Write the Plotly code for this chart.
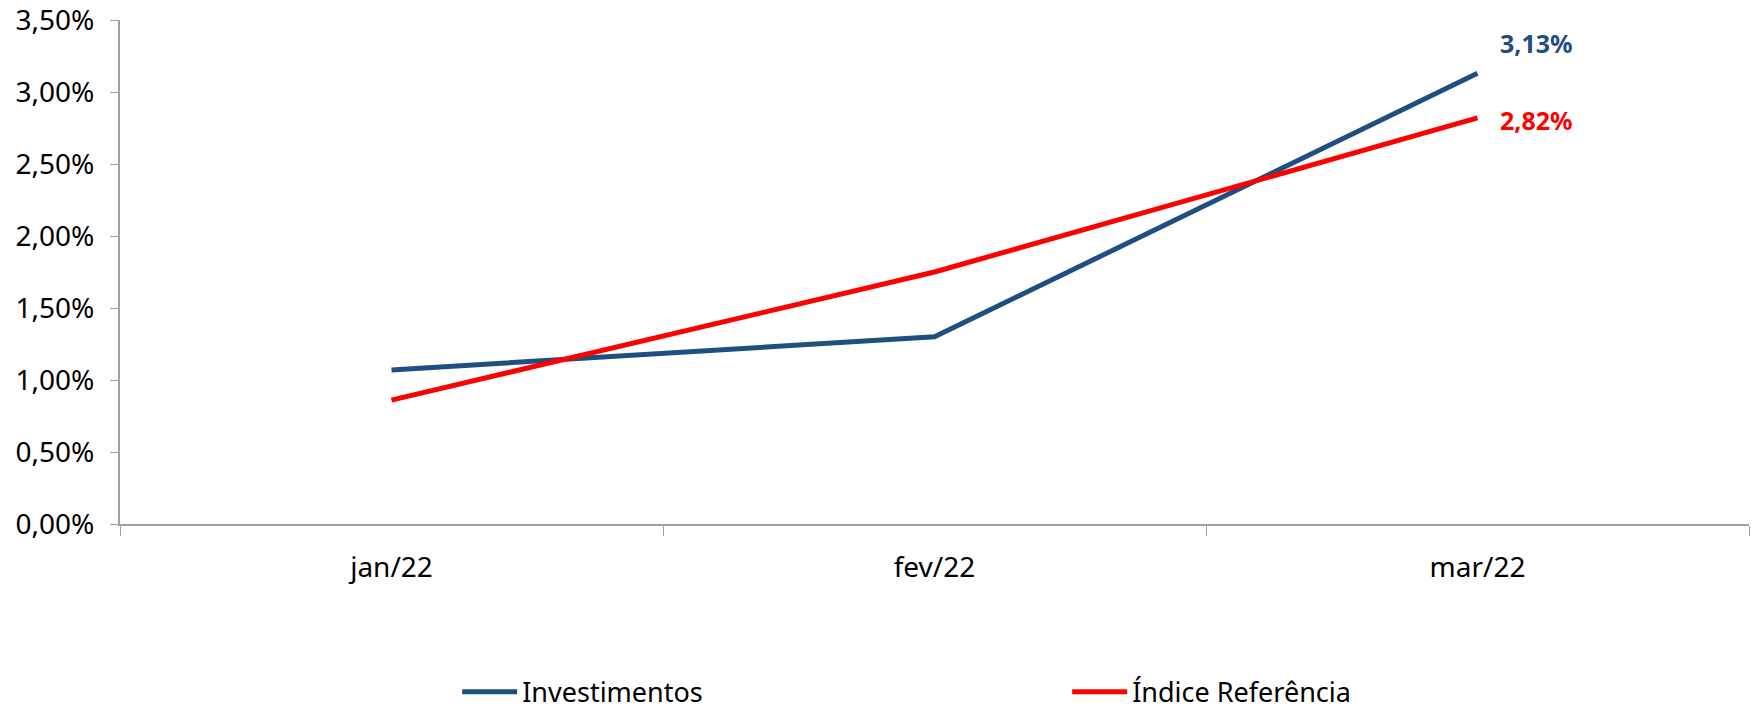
import plotly.graph_objects as go

months = ["jan/22", "fev/22", "mar/22"]
investimentos = [0.0107, 0.0130, 0.0313]
indice_ref = [0.0086, 0.0175, 0.0282]
y_ticks = [0, 0.005, 0.01, 0.015, 0.02, 0.025, 0.03, 0.035]

BLUE = "#1F4E80"
RED = "#FF0000"
FONT = "Noto Sans"

fig = go.Figure()
fig.add_trace(go.Scatter(x=months, y=investimentos, mode="lines", name="Investimentos",
                         line=dict(color=BLUE, width=5)))
fig.add_trace(go.Scatter(x=months, y=indice_ref, mode="lines", name="Índice Referência",
                         line=dict(color=RED, width=5)))

fig.add_annotation(x=months[-1], y=investimentos[-1], text="<b>3,13%</b>", showarrow=False,
                   xanchor="left", yanchor="middle", xshift=20, yshift=30,
                   font=dict(family=FONT, size=25, color=BLUE))
fig.add_annotation(x=months[-1], y=indice_ref[-1], text="<b>2,82%</b>", showarrow=False,
                   xanchor="left", yanchor="middle", xshift=20, yshift=-2,
                   font=dict(family=FONT, size=25, color=RED))

fig.update_layout(
    width=1758, height=709,
    margin=dict(l=112, r=17, t=12, b=193, autoexpand=False),
    plot_bgcolor="white", paper_bgcolor="white",
    separators=",.",
    font=dict(family=FONT, size=28, color="black"),
    showlegend=True,
    legend=dict(orientation="h", xref="container", x=0.2555, xanchor="left",
                yref="container", y=0.035, yanchor="middle", itemwidth=55,
                entrywidth=540, font=dict(family=FONT, size=27)),
)
fig.update_xaxes(type="category", range=[-0.5, 2.5], showline=True, linecolor="#A0A0A0",
                 linewidth=2, ticks="outside", tickson="boundaries", ticklen=10,
                 tickcolor="#A0A0A0", showgrid=False, zeroline=False,
                 ticklabelstandoff=17, ticklabeloverflow="allow")
fig.update_yaxes(range=[0, 0.035], tickvals=y_ticks, tickformat=".2%", showline=True,
                 linecolor="#A0A0A0", linewidth=2, ticks="outside", ticklen=8,
                 tickcolor="#A0A0A0", showgrid=False, zeroline=False,
                 ticklabelstandoff=10, ticklabeloverflow="allow")

fig.write_html("out.html")
